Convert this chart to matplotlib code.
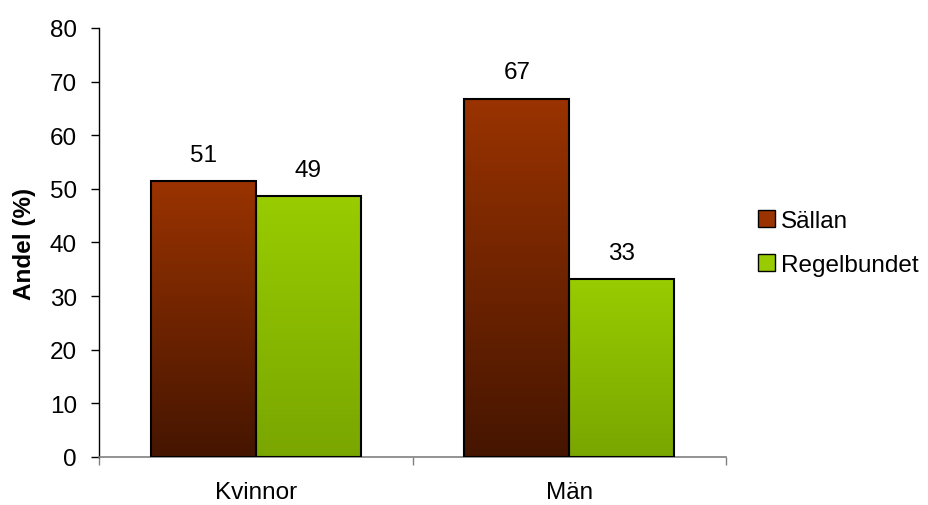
import numpy as np
import matplotlib.pyplot as plt
from matplotlib.colors import LinearSegmentedColormap
from matplotlib.patches import Patch

plt.rcParams['font.family'] = ['Liberation Sans', 'DejaVu Sans']

categories = ['Kvinnor', 'Män']
series_names = ['Sällan', 'Regelbundet']
sallan = [51.4, 66.8]
regelbundet = [48.6, 33.2]
sallan_labels = ['51', '67']
regelbundet_labels = ['49', '33']
yticks = [0, 10, 20, 30, 40, 50, 60, 70, 80]

grad_colors = {
    'Sällan': ('#9a3300', '#451500'),
    'Regelbundet': ('#99cc00', '#7aa600'),
}
fs = 17.5

fig = plt.figure(figsize=(9.29, 5.06), dpi=100)
ax = fig.add_axes([0.1066, 0.0949, 0.675, 0.8478])

x = np.arange(len(categories))
w = 0.335


def gradient_bars(bars, top, bottom):
    cmap = LinearSegmentedColormap.from_list('g', [bottom, top])
    grad = np.linspace(0, 1, 256).reshape(-1, 1)
    for b in bars:
        bx, by = b.get_x(), b.get_y()
        bw, bh = b.get_width(), b.get_height()
        im = ax.imshow(grad, cmap=cmap, origin='lower', aspect='auto',
                       extent=[bx, bx + bw, by, by + bh], zorder=2)
        im.set_clip_path(b)


b1 = ax.bar(x - w / 2, sallan, w, facecolor='none', edgecolor='black', linewidth=1.5, zorder=3)
b2 = ax.bar(x + w / 2, regelbundet, w, facecolor='none', edgecolor='black', linewidth=1.5, zorder=3)
gradient_bars(b1, *grad_colors['Sällan'])
gradient_bars(b2, *grad_colors['Regelbundet'])

for bars, labels in [(b1, sallan_labels), (b2, regelbundet_labels)]:
    for b, lab in zip(bars, labels):
        ax.annotate(lab, (b.get_x() + b.get_width() / 2, b.get_height()),
                    xytext=(0, 19), textcoords='offset points',
                    ha='center', va='center', fontsize=fs)

ax.set_xlim(-0.5, 1.5)
ax.set_ylim(0, 80)
ax.set_yticks(yticks)
ax.tick_params(axis='y', labelsize=fs, length=6, width=1, direction='out', pad=10)
ax.set_xticks(x)
ax.set_xticklabels(categories, fontsize=fs)
ax.tick_params(axis='x', length=0, pad=17)
ax.set_xticks([-0.5, 0.5, 1.5], minor=True)
ax.tick_params(axis='x', which='minor', length=6, color='#808080', width=1)

for s in ['top', 'right']:
    ax.spines[s].set_visible(False)
ax.spines['bottom'].set_color('#808080')
ax.spines['bottom'].set_linewidth(1.2)
ax.spines['left'].set_linewidth(1)

ax.set_ylabel('Andel (%)', fontsize=fs, fontweight='bold', labelpad=10)

handles = [Patch(facecolor=grad_colors[n][0], edgecolor='black', label=n) for n in series_names]
leg = fig.legend(handles=handles, loc='center left', bbox_to_anchor=(0.792, 0.518),
                 frameon=False, fontsize=fs, handlelength=0.7, handleheight=0.7,
                 handletextpad=0.25, labelspacing=0.9)

fig.savefig('out.png', dpi=100)
